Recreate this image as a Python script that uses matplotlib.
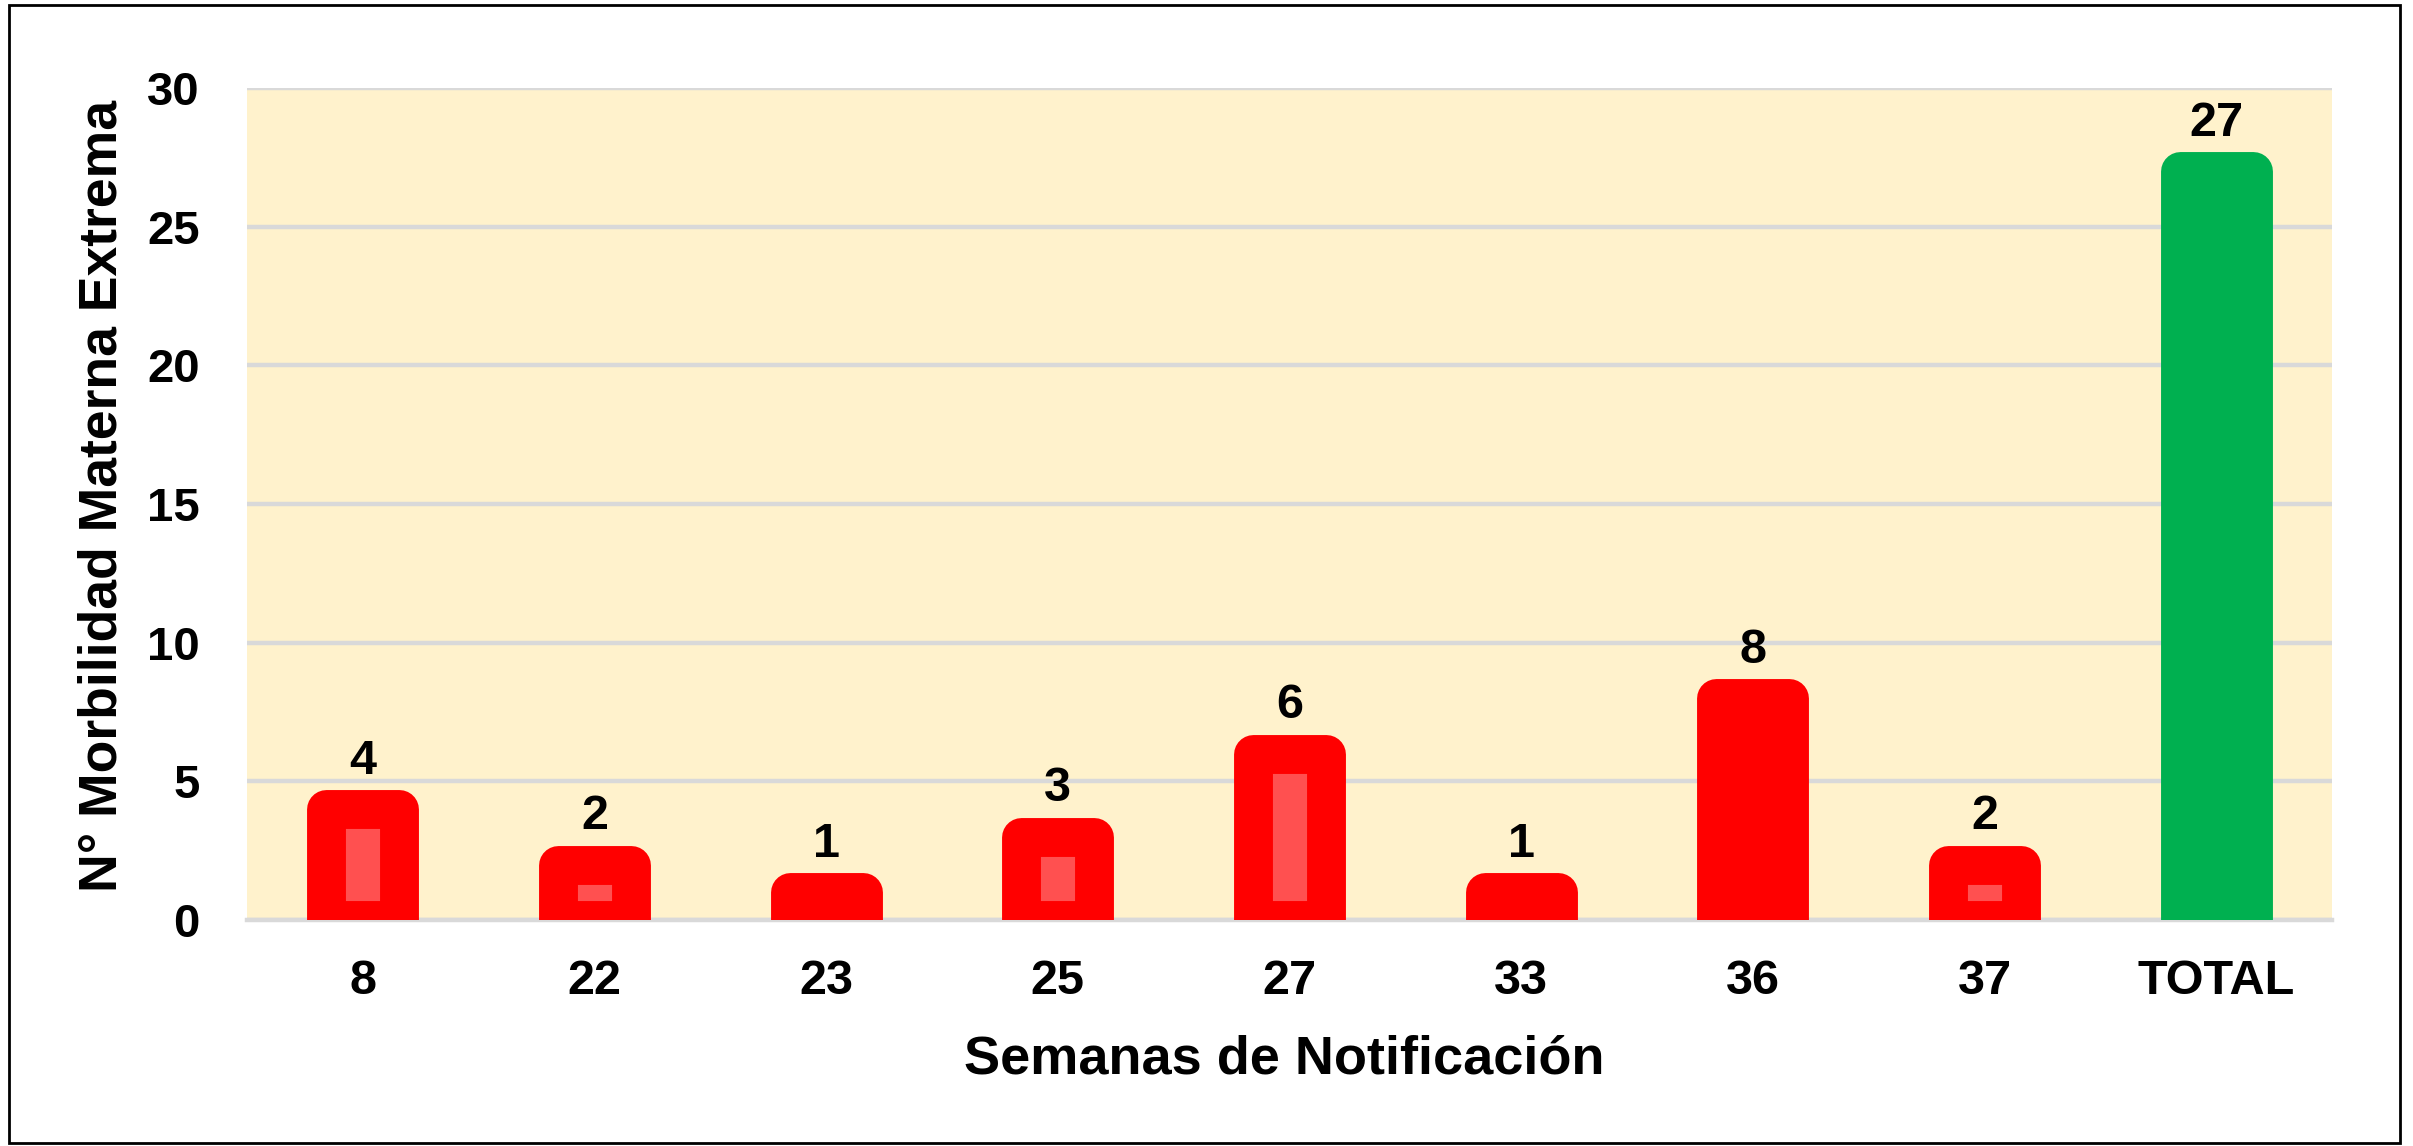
import matplotlib
matplotlib.use('Agg')
import matplotlib.pyplot as plt
from matplotlib.patches import Rectangle

# data
weeks = ['8', '22', '23', '25', '27', '33', '36', '37', 'TOTAL']
cases = [4, 2, 1, 3, 6, 1, 8, 2, 27]
edge_colors = ['#FF0000'] * 8 + ['#00B050']
fill_colors = ['#FF5050', '#FF5050', '#FF5050', '#FF5050', '#FF5050',
               '#FF5050', '#FF0000', '#FF5050', '#00B050']
y_ticks = [0, 5, 10, 15, 20, 25, 30]

plt.rcParams['font.family'] = ['Liberation Sans', 'DejaVu Sans']
plt.rcParams['font.weight'] = 'bold'

W, H, DPI = 2413, 1146, 100
fig = plt.figure(figsize=(W / DPI, H / DPI), dpi=DPI)
ax = fig.add_axes([247 / W, 1 - 920 / H, (2332 - 247) / W, (920 - 88) / H])
ax.set_facecolor('#FFF2CC')

x = range(len(weeks))
# thick rounded stroke mimics the Excel rounded bars
bars = ax.bar(x, cases, width=0.315, color=fill_colors, edgecolor=edge_colors,
              linewidth=28, joinstyle='round', zorder=3)

for xi, v in zip(x, cases):
    ax.annotate(str(v), (xi, v), xytext=(0, 25.5), textcoords='offset points',
                ha='center', va='baseline', fontsize=35, fontweight='bold',
                color='black', zorder=4)

ax.set_xlim(-0.5, len(weeks) - 0.5)
ax.set_ylim(0, 30)
ax.set_yticks(y_ticks)
ax.set_xticks(list(x))
ax.set_xticklabels(weeks)
ax.tick_params(axis='both', length=0)
ax.tick_params(axis='x', pad=28, labelsize=35)
ax.tick_params(axis='y', pad=34, labelsize=34)
for lab in ax.get_xticklabels() + ax.get_yticklabels():
    lab.set_fontweight('bold')

ax.grid(axis='y', color='#D9D9D9', linewidth=3.2, zorder=0)
ax.set_axisbelow(True)
for side in ['top', 'right', 'left']:
    ax.spines[side].set_visible(False)
ax.spines['bottom'].set_color('#D9D9D9')
ax.spines['bottom'].set_linewidth(3.2)

fig.text(103 / W, 1 - 496 / H, 'N° Morbilidad Materna Extrema', rotation=90,
         ha='center', va='center', fontsize=38.5, fontweight='bold')
fig.text(((942 + 1627) / 2) / W, 1 - 1059 / H, 'Semanas de Notificación',
         ha='center', va='center', fontsize=39, fontweight='bold')

# outer frame
fig.patches.append(Rectangle((9 / W, 3 / H), (2400 - 9) / W, (1141 - 3) / H,
                             transform=fig.transFigure, fill=False,
                             edgecolor='black', linewidth=2))

fig.savefig('out.png', dpi=DPI)
